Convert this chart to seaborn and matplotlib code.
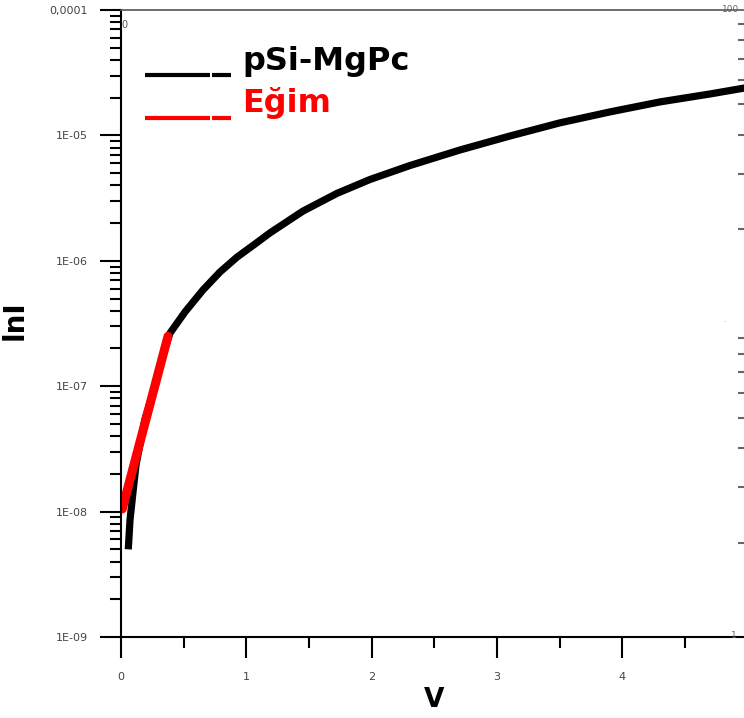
import numpy as np
import pandas as pd
import seaborn as sns
import matplotlib.pyplot as plt
from matplotlib.ticker import LogLocator, NullFormatter, FixedLocator, MultipleLocator

# okunan veri (V, I)
v_olcum = [0.058, 0.072, 0.098, 0.12, 0.19, 0.271, 0.335, 0.391, 0.511, 0.654, 0.790,
           0.926, 1.069, 1.189, 1.452, 1.724, 1.987, 2.306, 2.705, 3.104, 3.504, 3.903,
           4.302, 4.701, 5.0]
i_olcum = [5.0e-9, 8.6e-9, 1.5e-8, 2.36e-8, 5.4e-8, 9.9e-8, 1.78e-7, 2.65e-7, 3.91e-7, 5.85e-7,
           8.14e-7, 1.07e-6, 1.36e-6, 1.67e-6, 2.49e-6, 3.45e-6, 4.45e-6, 5.75e-6, 7.65e-6,
           9.89e-6, 1.26e-5, 1.54e-5, 1.85e-5, 2.14e-5, 2.41e-5]

# egim dogrusu
v_egim = [0.01, 0.375]
i_egim = [1.05e-8, 2.5e-7]

y_tick_deger = [1e-9, 1e-8, 1e-7, 1e-6, 1e-5, 1e-4]
y_tick_etiket = ["1E-09", "1E-08", "1E-07", "1E-06", "1E-05", "0,0001"]
x_tick_deger = [0, 1, 2, 3, 4]

sns.set_style("ticks")
plt.rcParams['font.family'] = ['DejaVu Sans']

fig = plt.figure(figsize=(7.44, 7.18), dpi=100)
ax = fig.add_axes([121 / 744, 81 / 718, 626.5 / 744, 627 / 718])

df = pd.DataFrame({"V": v_olcum, "I": i_olcum})
df2 = pd.DataFrame({"V": v_egim, "I": i_egim})
sns.lineplot(data=df, x="V", y="I", ax=ax, color="black", lw=5.2, sort=False,
             estimator=None, solid_capstyle="butt", solid_joinstyle="round")
sns.lineplot(data=df2, x="V", y="I", ax=ax, color="#ff0000", lw=6.5, sort=False,
             estimator=None, solid_capstyle="round")

ax.set_yscale("log")
ax.set_ylim(1e-9, 1e-4)
ax.set_xlim(0, 5)

ax.yaxis.set_major_locator(FixedLocator(y_tick_deger))
ax.set_yticklabels(y_tick_etiket)
ax.yaxis.set_minor_locator(LogLocator(base=10, subs=np.arange(2, 10)))
ax.yaxis.set_minor_formatter(NullFormatter())
ax.xaxis.set_major_locator(FixedLocator(x_tick_deger))
ax.set_xticklabels([str(t) for t in x_tick_deger])
ax.xaxis.set_minor_locator(MultipleLocator(0.5))

ax.tick_params(axis="both", which="major", length=15, width=1.5, labelsize=8,
               labelcolor="#444444", color="black", direction="out")
ax.tick_params(axis="both", which="minor", length=8, width=1.5, color="black", direction="out")
ax.tick_params(axis="x", which="major", pad=10)
ax.tick_params(axis="y", which="major", pad=9)

for s in ["left", "bottom"]:
    ax.spines[s].set_linewidth(1.5)
    ax.spines[s].set_color("black")
ax.spines["top"].set_linewidth(1.2)
ax.spines["top"].set_color("#555555")
ax.spines["right"].set_visible(False)

ax.set_xlabel("V", fontsize=19, fontweight="bold", labelpad=4, color="black")
ax.set_ylabel("lnI", fontsize=20, fontweight="bold", color="black")
ax.yaxis.set_label_coords(-0.148, 0.505)

# sag eksen (1-100)
ax2 = ax.twinx()
ax2.set_yscale("log")
ax2.set_ylim(1, 100)
ax2.yaxis.set_minor_locator(LogLocator(base=10, subs=np.arange(2, 10)))
ax2.yaxis.set_minor_formatter(NullFormatter())
ax2.set_yticks([])
ax2.tick_params(axis="y", which="minor", direction="in", length=7, width=1.5, color="#666666")
for s in ax2.spines.values():
    s.set_visible(False)

fig.text(731 / 744, 1 - 10 / 718, "100", fontsize=6.5, color="#666666", ha="center", va="center")
fig.text(734 / 744, 1 - 636 / 718, "1", fontsize=6.5, color="#666666", ha="center", va="center")
fig.text(724 / 744, 1 - 320 / 718, ".", fontsize=5, color="#999999", ha="center", va="center")
fig.text(124 / 744, 1 - 25 / 718, "0", fontsize=7, color="#555555", ha="center", va="center")

# gosterge
ax.plot([0.19, 0.71], [3.03e-5, 3.03e-5], color="black", lw=3, solid_capstyle="butt")
ax.plot([0.725, 0.88], [3.03e-5, 3.03e-5], color="black", lw=3, solid_capstyle="butt")
ax.plot([0.19, 0.71], [1.38e-5, 1.38e-5], color="#ff0000", lw=3, solid_capstyle="butt")
ax.plot([0.725, 0.88], [1.38e-5, 1.38e-5], color="#ff0000", lw=3, solid_capstyle="butt")
ax.text(0.97, 3.33e-5, "pSi-MgPc", fontsize=23, fontweight="bold", color="black", va="baseline")
ax.text(0.97, 1.54e-5, "Eğim", fontsize=23, fontweight="bold", color="#ff0000", va="baseline")

fig.savefig("out.png", dpi=100)
